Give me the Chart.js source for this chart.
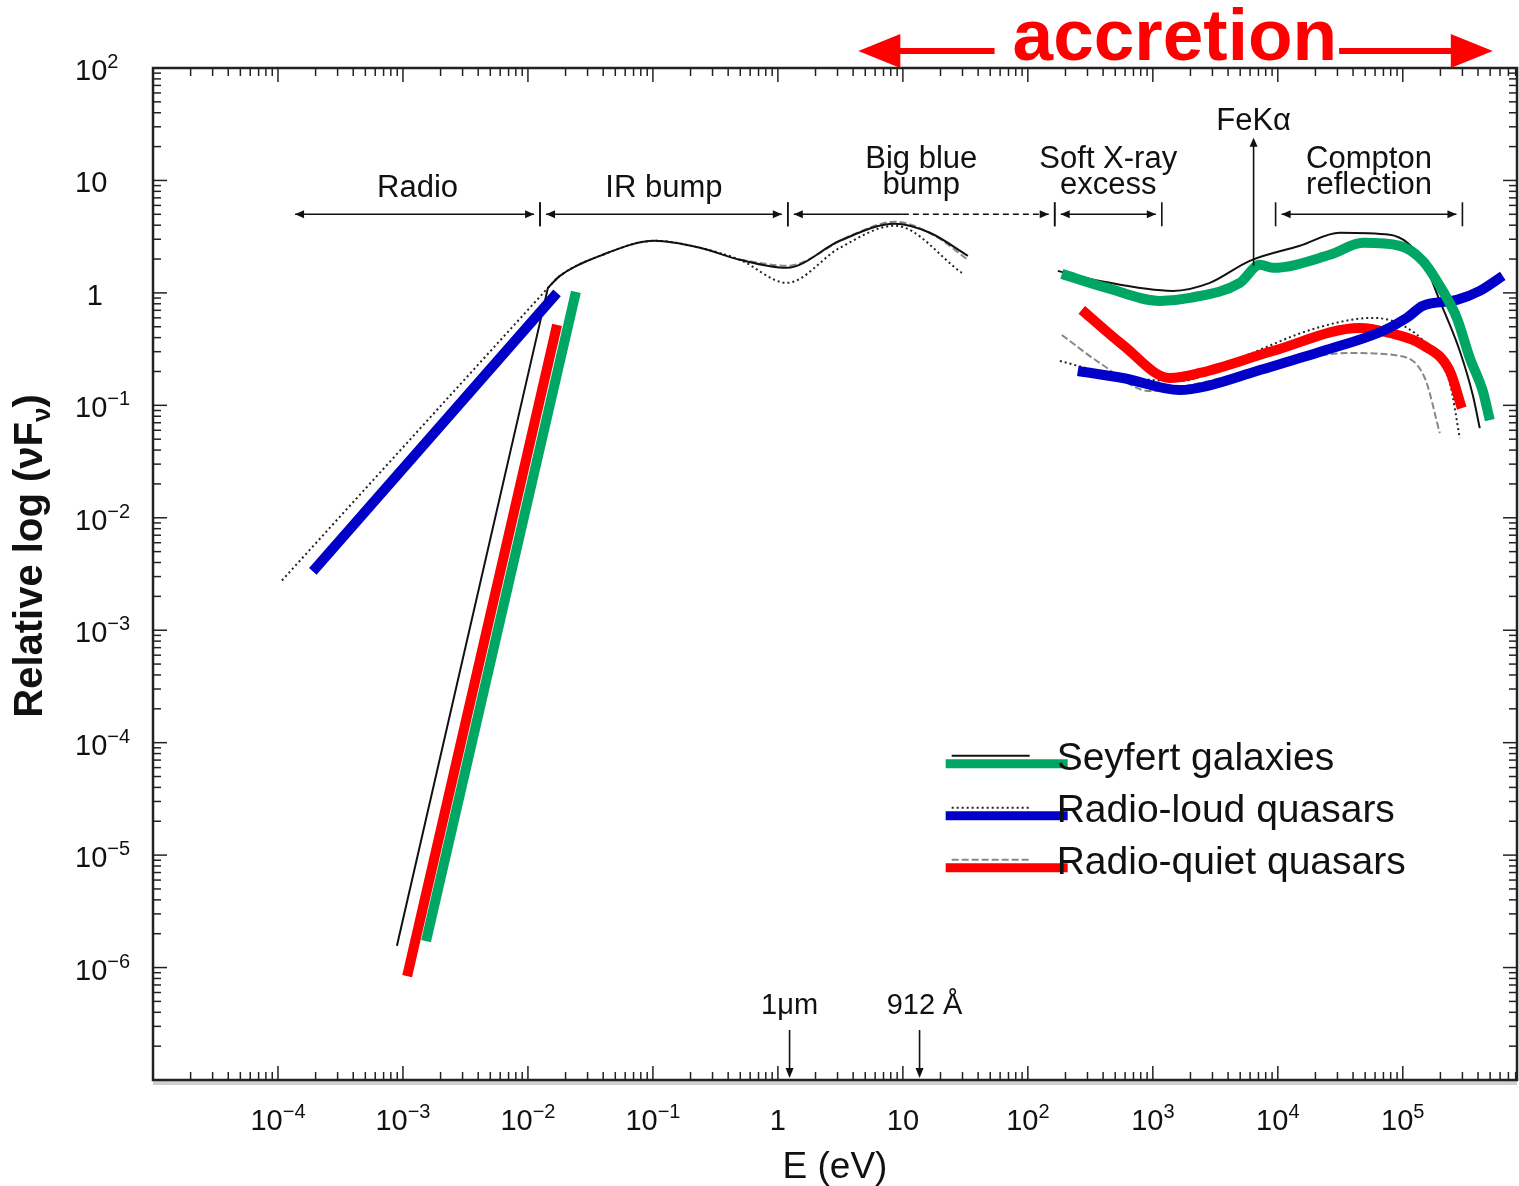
<!DOCTYPE html>
<html>
<head>
<meta charset="utf-8">
<script src="https://cdn.jsdelivr.net/npm/chart.js@4.4.0/dist/chart.umd.min.js"></script>
<style>
  html, body { margin: 0; padding: 0; background: #fff; }
  #wrap { width: 1519px; height: 1186px; position: relative; }
</style>
</head>
<body>
<div id="wrap"><canvas id="sedCanvas"></canvas></div>
<script>
const FONT = "'Liberation Sans', Arial, Helvetica, sans-serif";

// series names (legend)
const seriesNames = ["Seyfert galaxies", "Radio-loud quasars", "Radio-quiet quasars"];
const thickColors = ["#00a664", "#0000c8", "#ff0000"];

// thick coloured tracks: energy (eV) and relative nuFnu, null = gap
const seyfertE = [1.53e-3, 0.0242, null, 187, 429, 1138, 1977, 4966, 7178, 9120, 26060, 47860, 94620, 144500, 208900, 270400, 343600, 436500, 496600];
const seyfertF = [1.72e-6, 1.02, null, 1.476, 1.108, 0.849, 0.903, 1.228, 1.776, 1.670, 2.181, 2.789, 2.623, 1.928, 1.042, 0.599, 0.2636, 0.134, 0.0739];
const loudE = [1.9e-4, 0.0171, null, 251, 575, 1644, 2704, 6792, 22910, 69180, 107600, 144500, 270400, 413000, 631000];
const loudF = [3.34e-3, 1.0, null, 0.202, 0.175, 0.1367, 0.1484, 0.202, 0.304, 0.4585, 0.599, 0.766, 0.866, 1.042, 1.417];
const quietE = [1.08e-3, 0.0171, null, 270, 575, 1368, 2377, 9120, 45290, 78700, 144500, 237700, 296500];
const quietF = [8.4e-7, 0.519, null, 0.706, 0.344, 0.175, 0.194, 0.304, 0.488, 0.440, 0.344, 0.202, 0.0945];

// thin black template curves of the original figure
const seyfertThinE = [8.95e-4, 0.01445, null, 0.01445, 0.01803, 0.03767, 0.1038, 0.2377, 0.4966, 1.18, 3.133, 8.63, 16.44, 33.11, null, 173.8, 376.7, 1445, 2858, 5970, 15000, 31330, 78700, 144500, 197700, 285800, 363100, 413000];
const seyfertThinF = [1.56e-6, 1.108, null, 1.108, 1.417, 2.136, 2.906, 2.517, 1.968, 1.670, 2.906, 4.12, 3.424, 2.136, null, 1.57, 1.279, 1.042, 1.228, 1.928, 2.623, 3.424, 3.286, 1.928, 0.849, 0.304, 0.1234, 0.0627];
const loudThinE = [1.076e-4, 0.01445, null, 0.01445, 0.01803, 0.03767, 0.1038, 0.2377, 0.4966, 1.18, 3.133, 8.63, 29.65, null, 180.3, 544.5, 1644, 4966, 20510, 57540, 94620, 164400, 237700, 285800];
const loudThinF = [2.77e-3, 1.108, null, 1.108, 1.417, 2.136, 2.906, 2.517, 1.968, 1.228, 2.517, 3.953, 1.507, null, 0.2478, 0.182, 0.1644, 0.2636, 0.488, 0.599, 0.5297, 0.3236, 0.1578, 0.0511];
const quietThinE = [0.4966, 1.18, 3.767, 8.63, 18.03, 33.11, null, 187, 376.7, 946.2, 2377, 7178, 37670, 94620, 150000, 197700];
const quietThinF = [1.968, 1.740, 3.219, 4.291, 3.219, 1.968, null, 0.4224, 0.2379, 0.134, 0.1578, 0.2147, 0.292, 0.2747, 0.175, 0.0566];

// tick labels (powers of ten)
const xTickExp = [-4, -3, -2, -1, 0, 1, 2, 3, 4, 5];
const yTickExp = [-6, -5, -4, -3, -2, -1, 0, 1, 2];

// spectral regions (eV)
const regionNames = [["Radio"], ["IR bump"], ["Big blue", "bump"], ["Soft X-ray", "excess"], ["Compton", "reflection"]];
const regionStart = [1.37e-4, 0.0125, 1.2, 164, 9600];
const regionEnd = [0.0125, 1.2, 164, 1180, 3.0e5];
const regionLevel = 5.0;
const bbbDashFrom = 10;

const feKaEnergy = 6400;
const markerEnergy = [1.24, 13.6];
const markerText = ["1\u03bcm", "912 \u00c5"];

const track = (es, fs) => es.map((e, i) => ({ x: e === null ? es[i - 1] : e, y: fs[i] }));

function logTicks(min, max) {
  const out = [];
  for (let d = Math.floor(Math.log10(min)); d <= Math.ceil(Math.log10(max)); d++) {
    for (let m = 1; m <= 9; m++) {
      const v = m * Math.pow(10, d);
      if (v >= min * 0.999 && v <= max * 1.001) out.push({ v, major: m === 1 });
    }
  }
  return out;
}

function head(ctx, tx, ty, ang, len, half) {
  ctx.save();
  ctx.translate(tx, ty);
  ctx.rotate(ang);
  ctx.beginPath();
  ctx.moveTo(0, 0);
  ctx.lineTo(-len, -half);
  ctx.lineTo(-len, half);
  ctx.closePath();
  ctx.fill();
  ctx.restore();
}

function seg(ctx, x1, y1, x2, y2) {
  ctx.beginPath();
  ctx.moveTo(x1, y1);
  ctx.lineTo(x2, y2);
  ctx.stroke();
}

// "10" with a raised exponent
function powParts(exp) {
  if (exp === 0) return ["1", ""];
  if (exp === 1) return ["10", ""];
  return ["10", (exp < 0 ? "\u2212" : "") + Math.abs(exp)];
}

const sedDecor = {
  id: "sedDecor",
  afterDatasetsDraw(chart) {
    const { ctx, chartArea: a, scales: { x, y } } = chart;
    ctx.save();

    // frame
    ctx.strokeStyle = "#cfcfcf";
    ctx.lineWidth = 4;
    seg(ctx, a.left, a.bottom + 3, a.right, a.bottom + 3);
    ctx.strokeStyle = "#222";
    ctx.lineWidth = 2.5;
    ctx.strokeRect(a.left, a.top, a.right - a.left, a.bottom - a.top);

    // inward ticks on all four sides
    ctx.lineWidth = 1.5;
    logTicks(x.min, x.max).forEach(t => {
      const px = x.getPixelForValue(t.v);
      const len = t.major ? 14 : 8;
      seg(ctx, px, a.bottom, px, a.bottom - len);
      seg(ctx, px, a.top, px, a.top + len);
    });
    logTicks(y.min, y.max).forEach(t => {
      const py = y.getPixelForValue(t.v);
      const len = t.major ? 14 : 8;
      seg(ctx, a.left, py, a.left + len, py);
      seg(ctx, a.right, py, a.right - len, py);
    });

    // tick labels
    ctx.fillStyle = "#111";
    ctx.textBaseline = "alphabetic";
    ctx.textAlign = "left";
    const baseFont = "29px " + FONT, supFont = "20px " + FONT;
    xTickExp.forEach(e => {
      const [b, s] = powParts(e);
      ctx.font = baseFont; const wb = ctx.measureText(b).width;
      ctx.font = supFont; const ws = s ? ctx.measureText(s).width : 0;
      const px = x.getPixelForValue(Math.pow(10, e));
      const x0 = px - (wb + ws) / 2;
      ctx.font = baseFont; ctx.fillText(b, x0, a.bottom + 50);
      if (s) { ctx.font = supFont; ctx.fillText(s, x0 + wb, a.bottom + 38); }
    });
    yTickExp.forEach(e => {
      const [b, s] = powParts(e);
      const py = y.getPixelForValue(Math.pow(10, e));
      ctx.font = baseFont;
      if (e === 0) {
        ctx.textAlign = "right";
        ctx.fillText(b, a.left - 50, py + 12);
        ctx.textAlign = "left";
        return;
      }
      ctx.fillText(b, a.left - 78, py + 12);
      const wb = ctx.measureText(b).width;
      if (s) { ctx.font = supFont; ctx.fillText(s, a.left - 78 + wb, py); }
    });

    // axis titles
    ctx.font = "37px " + FONT;
    ctx.textAlign = "center";
    ctx.fillText("E (eV)", (a.left + a.right) / 2, a.bottom + 98);

    ctx.save();
    ctx.translate(42, a.top + 488);
    ctx.rotate(-Math.PI / 2);
    const tBold = "bold 40px " + FONT, tSub = "bold 26px " + FONT;
    const p1 = "Relative log (\u03bdF", p2 = "\u03bd", p3 = ")";
    ctx.font = tBold; const w1 = ctx.measureText(p1).width, w3 = ctx.measureText(p3).width;
    ctx.font = tSub; const w2 = ctx.measureText(p2).width;
    let tx = -(w1 + w2 + w3) / 2;
    ctx.textAlign = "left";
    ctx.font = tBold; ctx.fillText(p1, tx, 0); tx += w1;
    ctx.font = tSub; ctx.fillText(p2, tx, 8); tx += w2;
    ctx.font = tBold; ctx.fillText(p3, tx, 0);
    ctx.restore();

    ctx.restore();
  },
  afterDraw(chart) {
    const { ctx, chartArea: a, scales: { x, y } } = chart;
    ctx.save();
    ctx.strokeStyle = "#111";
    ctx.fillStyle = "#111";
    ctx.lineWidth = 1.6;

    // region arrows
    const ry = y.getPixelForValue(regionLevel);
    regionNames.forEach((lines, i) => {
      const xs = x.getPixelForValue(regionStart[i]);
      const xe = x.getPixelForValue(regionEnd[i]);
      const s = i === 0 ? xs : xs + 6;
      const e = xe - 6;
      if (i === 2) {
        const xd = x.getPixelForValue(bbbDashFrom);
        seg(ctx, s, ry, xd, ry);
        ctx.setLineDash([6, 4]);
        seg(ctx, xd, ry, e, ry);
        ctx.setLineDash([]);
      } else {
        seg(ctx, s, ry, e, ry);
      }
      head(ctx, s, ry, Math.PI, 9, 4);
      head(ctx, e, ry, 0, 9, 4);
      if (i > 0) seg(ctx, xs, ry - 12, xs, ry + 12);
      seg(ctx, xe, ry - 12, xe, ry + 12);

      ctx.font = "31px " + FONT;
      ctx.textAlign = "center";
      const cx = x.getPixelForValue(Math.sqrt(regionStart[i] * regionEnd[i]));
      if (lines.length === 1) {
        ctx.fillText(lines[0], cx, ry - 17);
      } else {
        ctx.fillText(lines[0], cx, ry - 46);
        ctx.fillText(lines[1], cx, ry - 20);
      }
    });

    // Fe K alpha line marker
    const fx = x.getPixelForValue(feKaEnergy);
    const fTop = y.getPixelForValue(24), fBot = y.getPixelForValue(1.75);
    seg(ctx, fx, fBot, fx, fTop + 6);
    head(ctx, fx, fTop, -Math.PI / 2, 9, 4);
    ctx.font = "31px " + FONT;
    ctx.textAlign = "center";
    ctx.fillText("FeK\u03b1", fx, fTop - 8);

    // 1 micron and Lyman limit markers
    markerEnergy.forEach((en, i) => {
      const mx = x.getPixelForValue(en);
      seg(ctx, mx, a.bottom - 50, mx, a.bottom - 10);
      head(ctx, mx, a.bottom - 2, Math.PI / 2, 10, 4);
      ctx.font = "29px " + FONT;
      ctx.fillText(markerText[i], mx + (i === 1 ? 5 : 0), a.bottom - 66);
    });

    // accretion banner
    const red = "#ff0000";
    ctx.fillStyle = red;
    ctx.strokeStyle = red;
    ctx.font = "bold 73px " + FONT;
    ctx.textAlign = "center";
    const ax1 = x.getPixelForValue(4.4), ax2 = x.getPixelForValue(5.25e5);
    const acx = x.getPixelForValue(1500);
    const aw = ctx.measureText("accretion").width;
    ctx.fillText("accretion", acx, 60);
    const ay = 51;
    ctx.lineWidth = 6;
    seg(ctx, ax1 + 30, ay, acx - aw / 2 - 18, ay);
    seg(ctx, acx + aw / 2 + 2, ay, ax2 - 30, ay);
    head(ctx, ax1, ay, Math.PI, 42, 17);
    head(ctx, ax2, ay, 0, 42, 17);

    // legend: thin template sample above thick coloured sample
    const lx = x.getPixelForValue(22);
    const ly0 = y.getPixelForValue(6.5e-5);
    const thinStyles = [[], [2, 3], [7, 3]];
    const thinColors = ["#111", "#222", "#888"];
    seriesNames.forEach((name, i) => {
      const ly = ly0 + i * 52;
      ctx.lineWidth = 2;
      ctx.strokeStyle = thinColors[i];
      ctx.setLineDash(thinStyles[i]);
      seg(ctx, lx + 6, ly - 8, lx + 84, ly - 8);
      ctx.setLineDash([]);
      ctx.lineWidth = 9;
      ctx.strokeStyle = thickColors[i];
      seg(ctx, lx, ly, lx + 122, ly);
      ctx.fillStyle = "#111";
      ctx.font = "39px " + FONT;
      ctx.textAlign = "left";
      ctx.fillText(name, lx + 111, ly + 6);
    });

    ctx.restore();
  }
};

const thinSets = [
  { data: track(seyfertThinE, seyfertThinF), borderColor: "#111", borderDash: [] },
  { data: track(loudThinE, loudThinF), borderColor: "#222", borderDash: [2, 3] },
  { data: track(quietThinE, quietThinF), borderColor: "#888", borderDash: [7, 3] }
].map(d => Object.assign(d, { label: "", borderWidth: 2, order: 5 }));

const thickSets = [
  { data: track(quietE, quietF), order: 3 },
  { data: track(loudE, loudF), order: 2 },
  { data: track(seyfertE, seyfertF), order: 1 }
].map((d, i) => {
  const idx = 2 - i;
  return Object.assign(d, { label: seriesNames[idx], borderColor: thickColors[idx], borderWidth: 10 });
});

new Chart(document.getElementById("sedCanvas"), {
  type: "line",
  data: { datasets: thinSets.concat(thickSets) },
  options: {
    responsive: true,
    maintainAspectRatio: false,
    animation: false,
    layout: { padding: { top: 68, right: 2, left: 0, bottom: 0 } },
    elements: {
      point: { radius: 0 },
      line: { cubicInterpolationMode: "monotone", fill: false }
    },
    plugins: {
      legend: { display: false },
      tooltip: { enabled: false }
    },
    scales: {
      x: {
        type: "logarithmic",
        min: 1e-5,
        max: 8.2e5,
        grid: { display: false },
        border: { display: false },
        ticks: { display: false },
        afterFit: s => { s.height = 106; }
      },
      y: {
        type: "logarithmic",
        min: 1e-7,
        max: 100,
        grid: { display: false },
        border: { display: false },
        ticks: { display: false },
        afterFit: s => { s.width = 153; }
      }
    }
  },
  plugins: [sedDecor]
});
</script>
</body>
</html>
